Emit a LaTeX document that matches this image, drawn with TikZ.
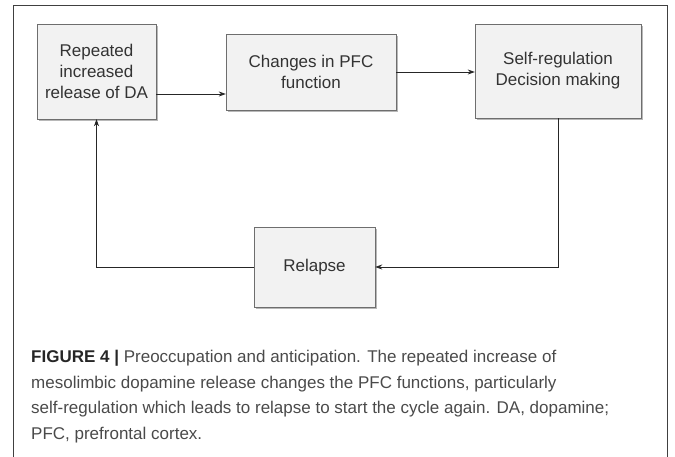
\documentclass[tikz,border=0pt]{standalone}
\usepackage{fontspec}
\setmainfont{Liberation Sans}
\usetikzlibrary{arrows.meta,shadows}
\definecolor{boxfill}{HTML}{F2F2F2}
\definecolor{boxline}{HTML}{6E6E6E}
\definecolor{captext}{HTML}{4A4A4A}

\begin{document}
\begin{tikzpicture}[x=1pt,y=-1pt,
  stepbox/.style={draw=boxline,fill=boxfill,inner sep=0pt,align=center,
    font=\fontsize{17}{21}\selectfont,text=black!80,
    drop shadow={shadow xshift=2pt,shadow yshift=-2pt,fill=black!35,opacity=.8}},
  arr/.style={-{Stealth[length=7pt,width=5pt]},black!85,line width=0.8pt}]
\useasboundingbox (0,0) rectangle (675,457);
% Draw the outer frame (open at the bottom)
\draw[black!75,line width=1pt] (13,457) -- (13,6) -- (667,6) -- (667,457);
% Draw the four steps of the cycle
\node[stepbox,minimum width=119pt,minimum height=95pt] (dopa) at (96.5,71.5)
  {Repeated\\increased\\release of DA};
\node[stepbox,minimum width=170pt,minimum height=76pt] (pfc) at (311,72)
  {Changes in PFC\\function};
\node[stepbox,minimum width=166pt,minimum height=94pt] (selfreg) at (558,71)
  {Self-regulation\\Decision making};
\node[stepbox,minimum width=121pt,minimum height=80pt] (relapse) at (314.5,267)
  {Relapse};
% Draw the arrows between the steps
\draw[arr] ([yshift=-22.5pt]dopa.east) coordinate (a1) -- (a1 -| pfc.west);
\draw[arr] (pfc.east) -- (pfc.east -| selfreg.west);
\draw[arr] (selfreg.south) |- (relapse.east);
\draw[arr] (relapse.west) -| (dopa.south);
% Draw the caption
\node[anchor=north west,align=left,inner sep=0pt,text=captext,
  font=\fontsize{17}{25.5}\selectfont] (caption) at (31,350)
  {{\color{black!85}\bfseries FIGURE 4 |} Preoccupation and anticipation. The repeated increase of\\
   mesolimbic dopamine release changes the PFC functions, particularly\\
   self-regulation which leads to relapse to start the cycle again. DA, dopamine;\\
   PFC, prefrontal cortex.};
\end{tikzpicture}
\end{document}
